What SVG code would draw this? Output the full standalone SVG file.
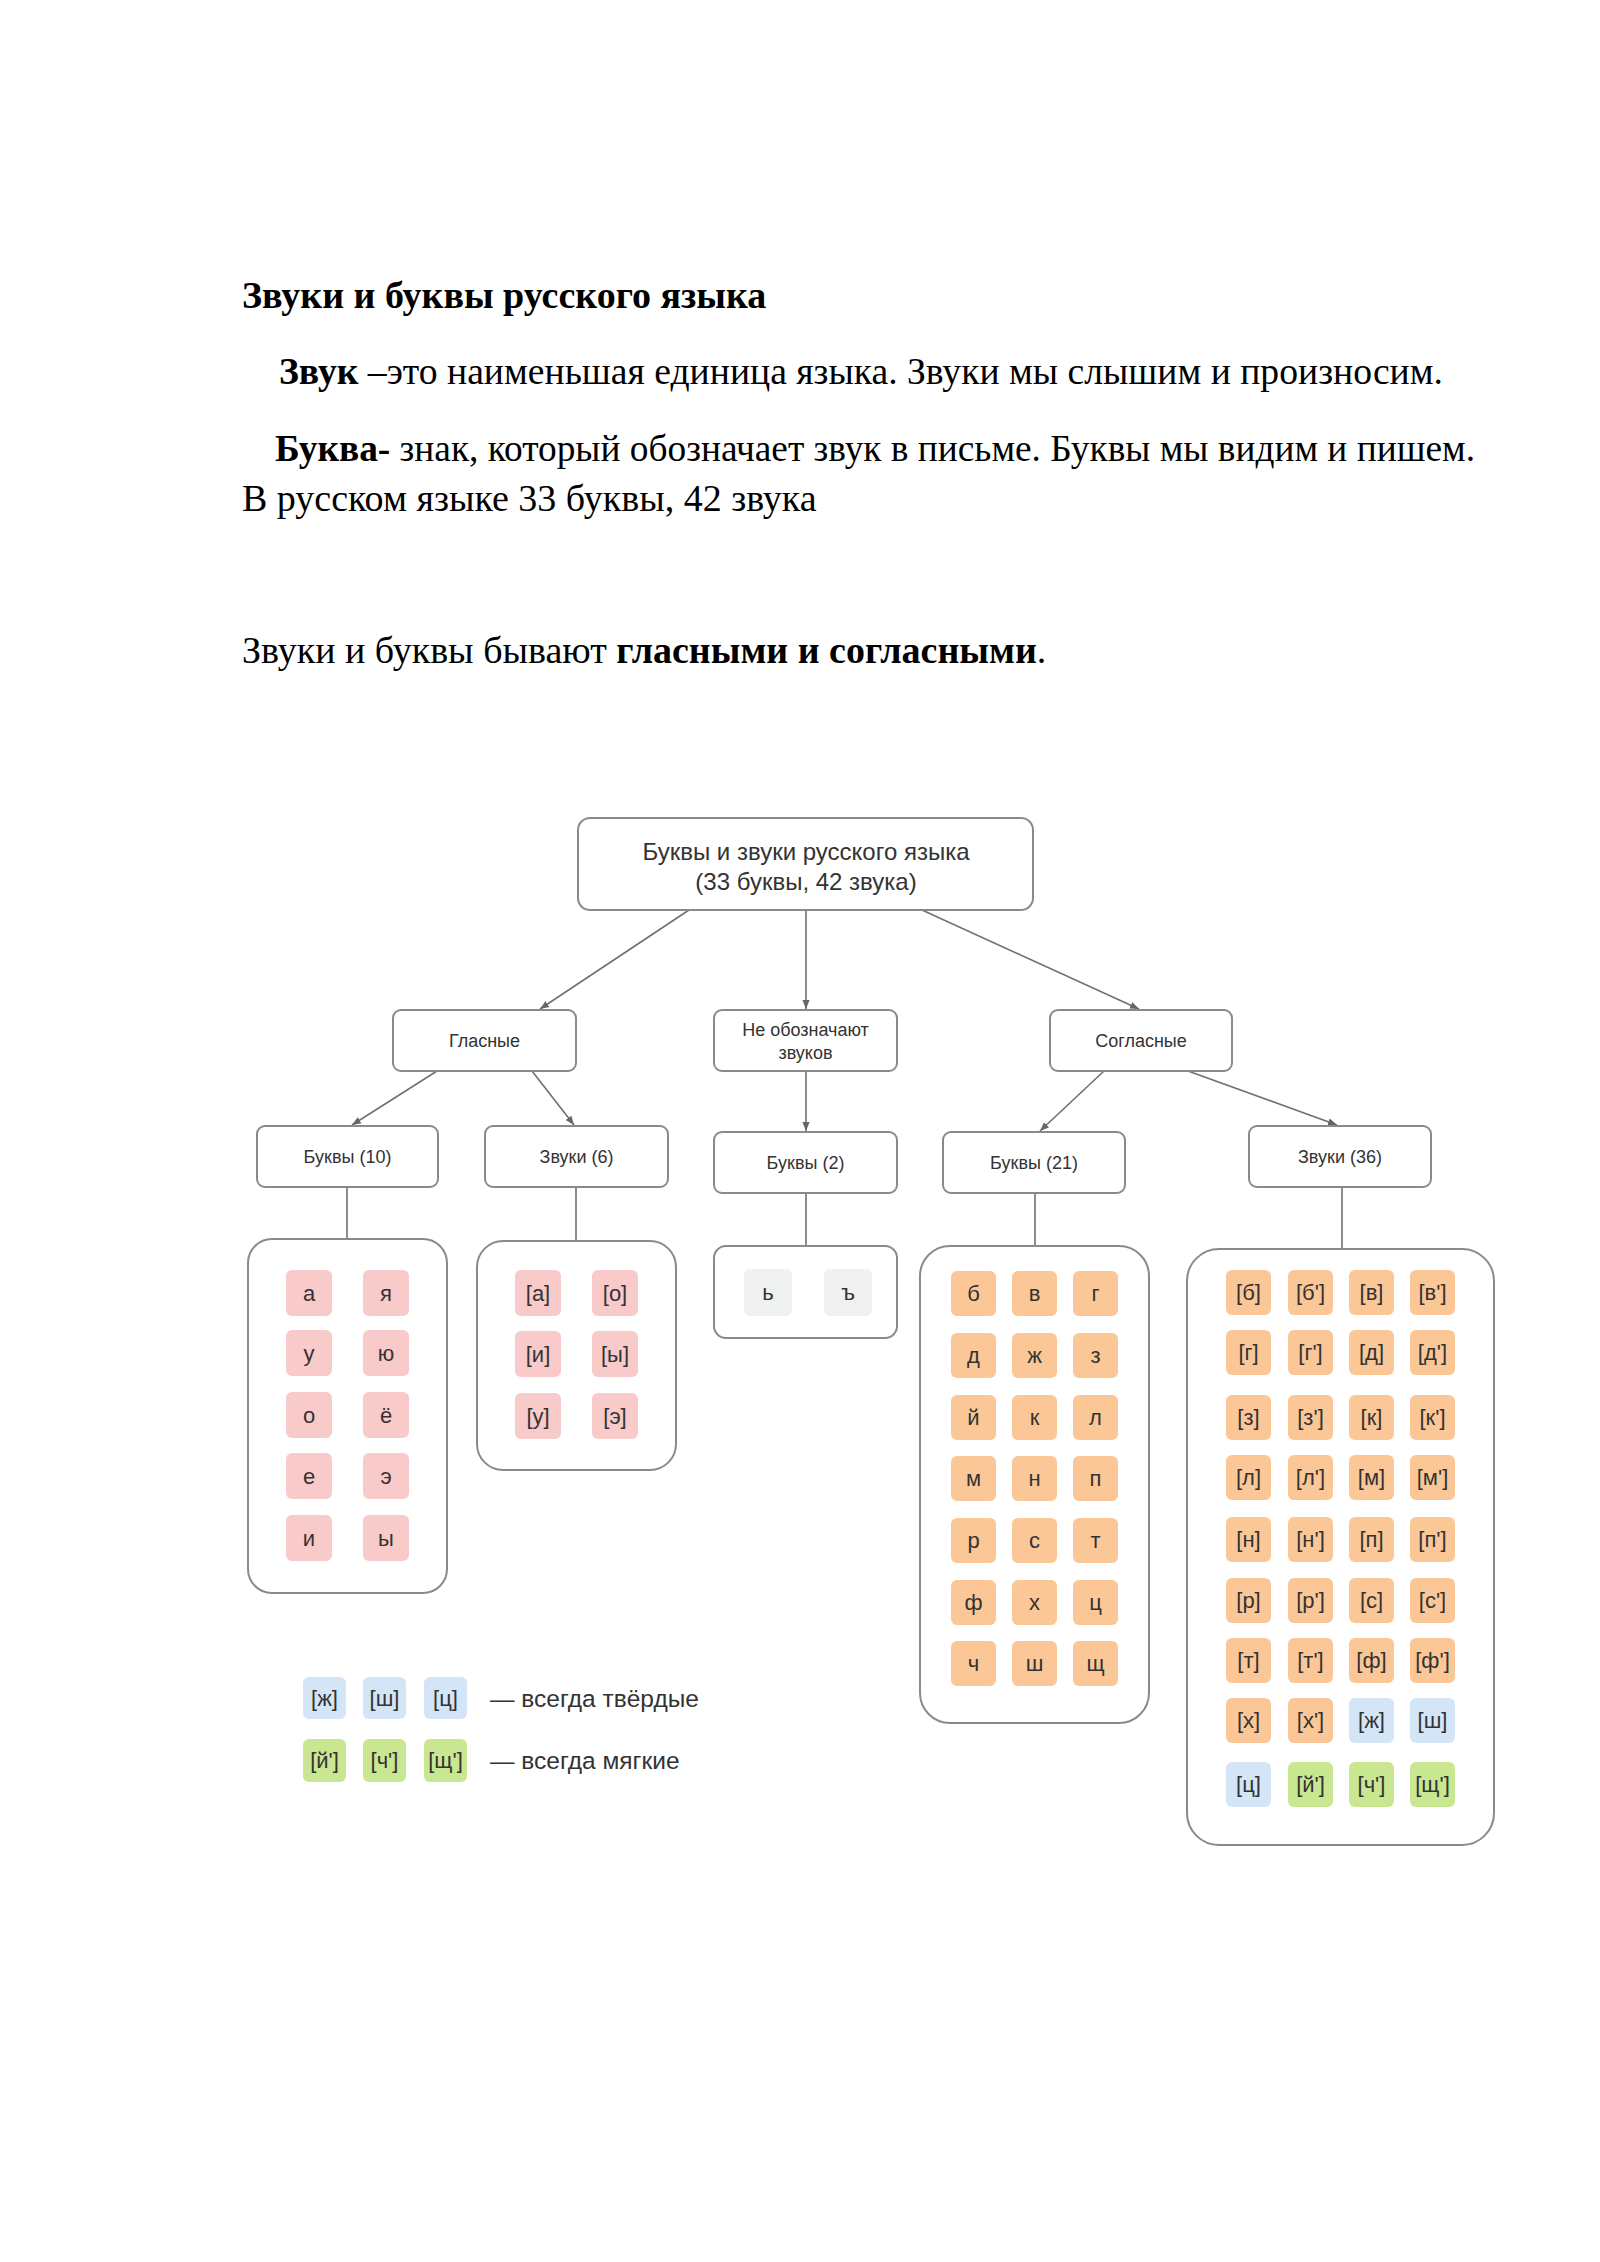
<svg xmlns="http://www.w3.org/2000/svg" width="1600" height="2262" viewBox="0 0 1600 2262">
<defs>
<marker id="ah" viewBox="0 0 10 10" refX="10" refY="5" markerWidth="9" markerHeight="9" markerUnits="userSpaceOnUse" orient="auto">
<path d="M0,1 L10,5 L0,9 z" fill="#666"/>
</marker>
<style>
.doc{font-family:"Liberation Serif","Times New Roman",serif;font-size:38px;fill:#000}
.b{font-weight:bold}
.node{fill:#fff;stroke:#8a8a8a;stroke-width:2}
.nt{font-family:"Liberation Sans",Arial,sans-serif;font-size:18px;fill:#333;text-anchor:middle}
.big{font-size:24px}
.cont{fill:#fff;stroke:#8a8a8a;stroke-width:2}
.tile{stroke:none}
.pk{fill:#f9caca}
.or{fill:#fcc797}
.bl{fill:#d3e5f7}
.gr{fill:#c9e690}
.gy{fill:#eff1f1}
.tt{font-family:"Liberation Sans",Arial,sans-serif;font-size:22px;fill:#333;text-anchor:middle}
.lg{font-family:"Liberation Sans",Arial,sans-serif;font-size:24.5px;fill:#333}
.con{stroke:#707070;stroke-width:1.6;fill:none}
</style>
</defs>
<rect width="1600" height="2262" fill="#fff"/>

<g id="header">
<text class="doc b" x="242" y="308">Звуки и буквы русского языка</text>
<text class="doc" x="279" y="384" textLength="1164" lengthAdjust="spacingAndGlyphs"><tspan class="b">Звук</tspan> –это наименьшая единица языка. Звуки мы слышим и произносим.</text>
<text class="doc" x="275" y="461" textLength="1200" lengthAdjust="spacingAndGlyphs"><tspan class="b">Буква-</tspan> знак, который обозначает звук в письме. Буквы мы видим и пишем.</text>
<text class="doc" x="242" y="511">В русском языке 33 буквы, 42 звука</text>
<text class="doc" x="242" y="663">Звуки и буквы бывают <tspan class="b">гласными и согласными</tspan>.</text>
</g>

<g id="connectors">
<line class="con" x1="689" y1="910" x2="540" y2="1009" marker-end="url(#ah)"/>
<line class="con" x1="806" y1="910" x2="806" y2="1009" marker-end="url(#ah)"/>
<line class="con" x1="922" y1="910" x2="1139" y2="1009" marker-end="url(#ah)"/>
<line class="con" x1="437" y1="1071" x2="352" y2="1125" marker-end="url(#ah)"/>
<line class="con" x1="532" y1="1071" x2="574" y2="1125" marker-end="url(#ah)"/>
<line class="con" x1="806" y1="1071" x2="806" y2="1131" marker-end="url(#ah)"/>
<line class="con" x1="1104" y1="1071" x2="1040" y2="1131" marker-end="url(#ah)"/>
<line class="con" x1="1188" y1="1071" x2="1337" y2="1125" marker-end="url(#ah)"/>
<line class="con" x1="347" y1="1187" x2="347" y2="1239"/>
<line class="con" x1="576" y1="1187" x2="576" y2="1241"/>
<line class="con" x1="806" y1="1193" x2="806" y2="1246"/>
<line class="con" x1="1035" y1="1193" x2="1035" y2="1246"/>
<line class="con" x1="1342" y1="1187" x2="1342" y2="1249"/>
</g>

<g id="root">
<rect class="node" x="578" y="818" width="455" height="92" rx="12"/>
<text class="nt big" x="806" y="860">Буквы и звуки русского языка</text>
<text class="nt big" x="806" y="890">(33 буквы, 42 звука)</text>
</g>
<g id="glasnye">
<rect class="node" x="393" y="1010" width="183" height="61" rx="8"/>
<text class="nt" x="484.5" y="1047">Гласные</text>
</g>
<g id="ne-oboznachayut">
<rect class="node" x="714" y="1010" width="183" height="61" rx="8"/>
<text class="nt" x="805.5" y="1036">Не обозначают</text>
<text class="nt" x="805.5" y="1059">звуков</text>
</g>
<g id="soglasnye">
<rect class="node" x="1050" y="1010" width="182" height="61" rx="8"/>
<text class="nt" x="1141" y="1047">Согласные</text>
</g>
<g id="bukvy10">
<rect class="node" x="257" y="1126" width="181" height="61" rx="8"/>
<text class="nt" x="347.5" y="1163">Буквы (10)</text>
</g>
<g id="zvuki6">
<rect class="node" x="485" y="1126" width="183" height="61" rx="8"/>
<text class="nt" x="576.5" y="1163">Звуки (6)</text>
</g>
<g id="bukvy2">
<rect class="node" x="714" y="1132" width="183" height="61" rx="8"/>
<text class="nt" x="805.5" y="1169">Буквы (2)</text>
</g>
<g id="bukvy21">
<rect class="node" x="943" y="1132" width="182" height="61" rx="8"/>
<text class="nt" x="1034" y="1169">Буквы (21)</text>
</g>
<g id="zvuki36">
<rect class="node" x="1249" y="1126" width="182" height="61" rx="8"/>
<text class="nt" x="1340" y="1163">Звуки (36)</text>
</g>

<g id="vowel-letters">
<rect class="cont" x="248" y="1239" width="199" height="354" rx="24"/>
<rect class="tile pk" x="286" y="1270" width="46" height="46" rx="6"/><text class="tt" x="309" y="1301">а</text>
<rect class="tile pk" x="363" y="1270" width="46" height="46" rx="6"/><text class="tt" x="386" y="1301">я</text>
<rect class="tile pk" x="286" y="1330" width="46" height="46" rx="6"/><text class="tt" x="309" y="1361">у</text>
<rect class="tile pk" x="363" y="1330" width="46" height="46" rx="6"/><text class="tt" x="386" y="1361">ю</text>
<rect class="tile pk" x="286" y="1392" width="46" height="46" rx="6"/><text class="tt" x="309" y="1423">о</text>
<rect class="tile pk" x="363" y="1392" width="46" height="46" rx="6"/><text class="tt" x="386" y="1423">ё</text>
<rect class="tile pk" x="286" y="1453" width="46" height="46" rx="6"/><text class="tt" x="309" y="1484">е</text>
<rect class="tile pk" x="363" y="1453" width="46" height="46" rx="6"/><text class="tt" x="386" y="1484">э</text>
<rect class="tile pk" x="286" y="1515" width="46" height="46" rx="6"/><text class="tt" x="309" y="1546">и</text>
<rect class="tile pk" x="363" y="1515" width="46" height="46" rx="6"/><text class="tt" x="386" y="1546">ы</text>
</g>

<g id="vowel-sounds">
<rect class="cont" x="477" y="1241" width="199" height="229" rx="26"/>
<rect class="tile pk" x="515" y="1270" width="46" height="46" rx="6"/><text class="tt" x="538" y="1301">[а]</text>
<rect class="tile pk" x="592" y="1270" width="46" height="46" rx="6"/><text class="tt" x="615" y="1301">[о]</text>
<rect class="tile pk" x="515" y="1331" width="46" height="46" rx="6"/><text class="tt" x="538" y="1362">[и]</text>
<rect class="tile pk" x="592" y="1331" width="46" height="46" rx="6"/><text class="tt" x="615" y="1362">[ы]</text>
<rect class="tile pk" x="515" y="1393" width="46" height="46" rx="6"/><text class="tt" x="538" y="1424">[у]</text>
<rect class="tile pk" x="592" y="1393" width="46" height="46" rx="6"/><text class="tt" x="615" y="1424">[э]</text>
</g>

<g id="signs">
<rect class="cont" x="714" y="1246" width="183" height="92" rx="12"/>
<rect class="tile gy" x="744" y="1269" width="48" height="47" rx="6"/><text class="tt" x="768" y="1300">ь</text>
<rect class="tile gy" x="824" y="1269" width="48" height="47" rx="6"/><text class="tt" x="848" y="1300">ъ</text>
</g>

<g id="consonant-letters">
<rect class="cont" x="920" y="1246" width="229" height="477" rx="30"/>
<rect class="tile or" x="951" y="1271" width="45" height="45" rx="6"/><text class="tt" x="973.5" y="1301">б</text>
<rect class="tile or" x="1012" y="1271" width="45" height="45" rx="6"/><text class="tt" x="1034.5" y="1301">в</text>
<rect class="tile or" x="1073" y="1271" width="45" height="45" rx="6"/><text class="tt" x="1095.5" y="1301">г</text>
<rect class="tile or" x="951" y="1333" width="45" height="45" rx="6"/><text class="tt" x="973.5" y="1363">д</text>
<rect class="tile or" x="1012" y="1333" width="45" height="45" rx="6"/><text class="tt" x="1034.5" y="1363">ж</text>
<rect class="tile or" x="1073" y="1333" width="45" height="45" rx="6"/><text class="tt" x="1095.5" y="1363">з</text>
<rect class="tile or" x="951" y="1395" width="45" height="45" rx="6"/><text class="tt" x="973.5" y="1425">й</text>
<rect class="tile or" x="1012" y="1395" width="45" height="45" rx="6"/><text class="tt" x="1034.5" y="1425">к</text>
<rect class="tile or" x="1073" y="1395" width="45" height="45" rx="6"/><text class="tt" x="1095.5" y="1425">л</text>
<rect class="tile or" x="951" y="1456" width="45" height="45" rx="6"/><text class="tt" x="973.5" y="1486">м</text>
<rect class="tile or" x="1012" y="1456" width="45" height="45" rx="6"/><text class="tt" x="1034.5" y="1486">н</text>
<rect class="tile or" x="1073" y="1456" width="45" height="45" rx="6"/><text class="tt" x="1095.5" y="1486">п</text>
<rect class="tile or" x="951" y="1518" width="45" height="45" rx="6"/><text class="tt" x="973.5" y="1548">р</text>
<rect class="tile or" x="1012" y="1518" width="45" height="45" rx="6"/><text class="tt" x="1034.5" y="1548">с</text>
<rect class="tile or" x="1073" y="1518" width="45" height="45" rx="6"/><text class="tt" x="1095.5" y="1548">т</text>
<rect class="tile or" x="951" y="1580" width="45" height="45" rx="6"/><text class="tt" x="973.5" y="1610">ф</text>
<rect class="tile or" x="1012" y="1580" width="45" height="45" rx="6"/><text class="tt" x="1034.5" y="1610">х</text>
<rect class="tile or" x="1073" y="1580" width="45" height="45" rx="6"/><text class="tt" x="1095.5" y="1610">ц</text>
<rect class="tile or" x="951" y="1641" width="45" height="45" rx="6"/><text class="tt" x="973.5" y="1671">ч</text>
<rect class="tile or" x="1012" y="1641" width="45" height="45" rx="6"/><text class="tt" x="1034.5" y="1671">ш</text>
<rect class="tile or" x="1073" y="1641" width="45" height="45" rx="6"/><text class="tt" x="1095.5" y="1671">щ</text>
</g>

<g id="consonant-sounds">
<rect class="cont" x="1187" y="1249" width="307" height="596" rx="32"/>
<rect class="tile or" x="1226" y="1270" width="45" height="45" rx="6"/><text class="tt" x="1248.5" y="1300">[б]</text>
<rect class="tile or" x="1288" y="1270" width="45" height="45" rx="6"/><text class="tt" x="1310.5" y="1300">[б']</text>
<rect class="tile or" x="1349" y="1270" width="45" height="45" rx="6"/><text class="tt" x="1371.5" y="1300">[в]</text>
<rect class="tile or" x="1410" y="1270" width="45" height="45" rx="6"/><text class="tt" x="1432.5" y="1300">[в']</text>
<rect class="tile or" x="1226" y="1330" width="45" height="45" rx="6"/><text class="tt" x="1248.5" y="1360">[г]</text>
<rect class="tile or" x="1288" y="1330" width="45" height="45" rx="6"/><text class="tt" x="1310.5" y="1360">[г']</text>
<rect class="tile or" x="1349" y="1330" width="45" height="45" rx="6"/><text class="tt" x="1371.5" y="1360">[д]</text>
<rect class="tile or" x="1410" y="1330" width="45" height="45" rx="6"/><text class="tt" x="1432.5" y="1360">[д']</text>
<rect class="tile or" x="1226" y="1395" width="45" height="45" rx="6"/><text class="tt" x="1248.5" y="1425">[з]</text>
<rect class="tile or" x="1288" y="1395" width="45" height="45" rx="6"/><text class="tt" x="1310.5" y="1425">[з']</text>
<rect class="tile or" x="1349" y="1395" width="45" height="45" rx="6"/><text class="tt" x="1371.5" y="1425">[к]</text>
<rect class="tile or" x="1410" y="1395" width="45" height="45" rx="6"/><text class="tt" x="1432.5" y="1425">[к']</text>
<rect class="tile or" x="1226" y="1455" width="45" height="45" rx="6"/><text class="tt" x="1248.5" y="1485">[л]</text>
<rect class="tile or" x="1288" y="1455" width="45" height="45" rx="6"/><text class="tt" x="1310.5" y="1485">[л']</text>
<rect class="tile or" x="1349" y="1455" width="45" height="45" rx="6"/><text class="tt" x="1371.5" y="1485">[м]</text>
<rect class="tile or" x="1410" y="1455" width="45" height="45" rx="6"/><text class="tt" x="1432.5" y="1485">[м']</text>
<rect class="tile or" x="1226" y="1517" width="45" height="45" rx="6"/><text class="tt" x="1248.5" y="1547">[н]</text>
<rect class="tile or" x="1288" y="1517" width="45" height="45" rx="6"/><text class="tt" x="1310.5" y="1547">[н']</text>
<rect class="tile or" x="1349" y="1517" width="45" height="45" rx="6"/><text class="tt" x="1371.5" y="1547">[п]</text>
<rect class="tile or" x="1410" y="1517" width="45" height="45" rx="6"/><text class="tt" x="1432.5" y="1547">[п']</text>
<rect class="tile or" x="1226" y="1578" width="45" height="45" rx="6"/><text class="tt" x="1248.5" y="1608">[р]</text>
<rect class="tile or" x="1288" y="1578" width="45" height="45" rx="6"/><text class="tt" x="1310.5" y="1608">[р']</text>
<rect class="tile or" x="1349" y="1578" width="45" height="45" rx="6"/><text class="tt" x="1371.5" y="1608">[с]</text>
<rect class="tile or" x="1410" y="1578" width="45" height="45" rx="6"/><text class="tt" x="1432.5" y="1608">[с']</text>
<rect class="tile or" x="1226" y="1638" width="45" height="45" rx="6"/><text class="tt" x="1248.5" y="1668">[т]</text>
<rect class="tile or" x="1288" y="1638" width="45" height="45" rx="6"/><text class="tt" x="1310.5" y="1668">[т']</text>
<rect class="tile or" x="1349" y="1638" width="45" height="45" rx="6"/><text class="tt" x="1371.5" y="1668">[ф]</text>
<rect class="tile or" x="1410" y="1638" width="45" height="45" rx="6"/><text class="tt" x="1432.5" y="1668">[ф']</text>
<rect class="tile or" x="1226" y="1698" width="45" height="45" rx="6"/><text class="tt" x="1248.5" y="1728">[х]</text>
<rect class="tile or" x="1288" y="1698" width="45" height="45" rx="6"/><text class="tt" x="1310.5" y="1728">[х']</text>
<rect class="tile bl" x="1349" y="1698" width="45" height="45" rx="6"/><text class="tt" x="1371.5" y="1728">[ж]</text>
<rect class="tile bl" x="1410" y="1698" width="45" height="45" rx="6"/><text class="tt" x="1432.5" y="1728">[ш]</text>
<rect class="tile bl" x="1226" y="1762" width="45" height="45" rx="6"/><text class="tt" x="1248.5" y="1792">[ц]</text>
<rect class="tile gr" x="1288" y="1762" width="45" height="45" rx="6"/><text class="tt" x="1310.5" y="1792">[й']</text>
<rect class="tile gr" x="1349" y="1762" width="45" height="45" rx="6"/><text class="tt" x="1371.5" y="1792">[ч']</text>
<rect class="tile gr" x="1410" y="1762" width="45" height="45" rx="6"/><text class="tt" x="1432.5" y="1792">[щ']</text>
</g>

<g id="legend">
<rect class="tile bl" x="303" y="1677" width="43" height="42" rx="6"/><text class="tt" x="324.5" y="1706">[ж]</text>
<rect class="tile bl" x="363" y="1677" width="43" height="42" rx="6"/><text class="tt" x="384.5" y="1706">[ш]</text>
<rect class="tile bl" x="424" y="1677" width="43" height="42" rx="6"/><text class="tt" x="445.5" y="1706">[ц]</text>
<text class="lg" x="490" y="1707">— всегда твёрдые</text>
<rect class="tile gr" x="303" y="1739" width="43" height="43" rx="6"/><text class="tt" x="324.5" y="1768">[й']</text>
<rect class="tile gr" x="363" y="1739" width="43" height="43" rx="6"/><text class="tt" x="384.5" y="1768">[ч']</text>
<rect class="tile gr" x="424" y="1739" width="43" height="43" rx="6"/><text class="tt" x="445.5" y="1768">[щ']</text>
<text class="lg" x="490" y="1769">— всегда мягкие</text>
</g>
</svg>
